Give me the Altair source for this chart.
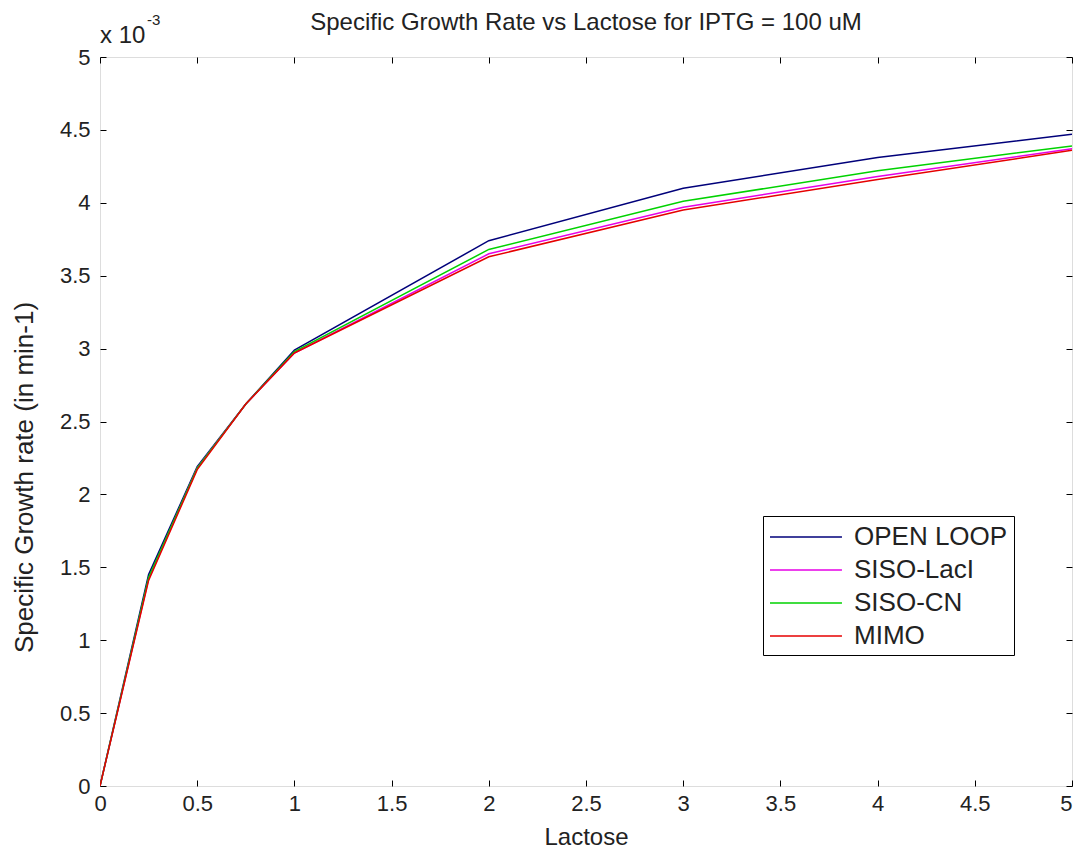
import altair as alt
import pandas as pd

# ---- data (y values in units of 1e-3 min^-1) ----
lactose = [0, 0.25, 0.5, 0.75, 1, 2, 3, 4, 5]
series_names = ["OPEN LOOP", "SISO-LacI", "SISO-CN", "MIMO"]
open_loop = [0, 1.45, 2.19, 2.62, 2.99, 3.74, 4.10, 4.31, 4.47]
siso_laci = [0, 1.42, 2.18, 2.62, 2.97, 3.65, 3.97, 4.18, 4.37]
siso_cn = [0, 1.43, 2.18, 2.62, 2.98, 3.68, 4.01, 4.22, 4.39]
mimo = [0, 1.41, 2.17, 2.62, 2.97, 3.63, 3.95, 4.16, 4.36]
colors = ["#00007a", "#e600e6", "#00d200", "#e60000"]
x_ticks = [0, 0.5, 1, 1.5, 2, 2.5, 3, 3.5, 4, 4.5, 5]
y_ticks = [0, 0.5, 1, 1.5, 2, 2.5, 3, 3.5, 4, 4.5, 5]
title_text = ["Specific Growth Rate vs Lactose for IPTG = 100 uM"]
exp_text = ["x 10"]
exp_sup_text = ["-3"]

rows = []
for k, (name, vals) in enumerate(zip(series_names, [open_loop, siso_laci, siso_cn, mimo])):
    for x, y in zip(lactose, vals):
        rows.append({"Lactose": x, "Rate": y, "Series": name, "k": k})
df = pd.DataFrame(rows)

FONT = "Liberation Sans"
TXT = "#222222"
xscale = alt.Scale(domain=[0, 5], nice=False, zero=False)
yscale = alt.Scale(domain=[0, 5], nice=False, zero=False)

base = alt.Chart(df)

lines = base.mark_line(strokeWidth=1.5, clip=True).encode(
    x=alt.X("Lactose:Q", scale=xscale,
            axis=alt.Axis(orient="bottom", values=x_ticks, ticks=False, domain=False, grid=False,
                          labelPadding=7, labelFontSize=22, labelFont=FONT, format="~g",
                          labelFlush=False, labelColor=TXT,
                          labelAlign=alt.condition("datum.value == 5", alt.value("right"), alt.value("center")),
                          title="Lactose", titleFontSize=24, titleFont=FONT,
                          titleFontWeight="normal", titleColor=TXT, titleY=51,
                          titleBaseline="middle")),
    y=alt.Y("Rate:Q", scale=yscale,
            axis=alt.Axis(orient="left", values=y_ticks, ticks=False, domain=False, grid=False,
                          labelPadding=10, labelFontSize=22, labelFont=FONT, format="~g",
                          labelFlush=False, labelColor=TXT,
                          title="Specific Growth rate (in min-1)", titleFontSize=26,
                          titleFont=FONT, titleFontWeight="normal", titleColor=TXT,
                          titleX=-76, titleY=420, titleAngle=-90, titleBaseline="middle")),
    color=alt.Color("Series:N",
                    scale=alt.Scale(domain=series_names, range=colors),
                    sort=series_names,
                    legend=alt.Legend(orient="none", legendX=663, legendY=459,
                                      title=None, symbolType="M-1,0H4.14", symbolSize=784,
                                      symbolStrokeWidth=1.5, labelFontSize=26, labelFont=FONT,
                                      labelColor=TXT, strokeColor="black", fillColor="white",
                                      padding=6, rowPadding=5, labelOffset=55)),
    order=alt.Order("k:Q"),
)

tick_style = dict(labels=False, domain=False, grid=False, title=None, tickSize=6,
                  tickColor="black", tickWidth=1)

ticks_a = base.mark_point(opacity=0).encode(
    x=alt.X("Lactose:Q", scale=xscale,
            axis=alt.Axis(orient="bottom", offset=-6, values=x_ticks, **tick_style)),
    y=alt.Y("Rate:Q", scale=yscale,
            axis=alt.Axis(orient="left", offset=-6, values=y_ticks, **tick_style)),
)
ticks_b = base.mark_point(opacity=0).encode(
    x=alt.X("Lactose:Q", scale=xscale,
            axis=alt.Axis(orient="top", offset=-6, values=x_ticks, **tick_style)),
    y=alt.Y("Rate:Q", scale=yscale,
            axis=alt.Axis(orient="right", offset=-6, values=y_ticks, **tick_style)),
)

title_mark = alt.Chart(pd.DataFrame({"t": title_text})).mark_text(
    align="center", baseline="middle", fontSize=24, font=FONT, color=TXT
).encode(text="t:N", x=alt.value(486), y=alt.value(-34))
exp_base = alt.Chart(pd.DataFrame({"t": exp_text})).mark_text(
    align="left", baseline="alphabetic", fontSize=24, font=FONT, color=TXT
).encode(text="t:N", x=alt.value(0), y=alt.value(-14))
exp_sup = alt.Chart(pd.DataFrame({"t": exp_sup_text})).mark_text(
    align="left", baseline="alphabetic", fontSize=15, font=FONT, color=TXT
).encode(text="t:N", x=alt.value(47), y=alt.value(-32))

chart = alt.layer(lines, ticks_a, ticks_b, title_mark, exp_base, exp_sup).resolve_axis(
    x="independent", y="independent"
).properties(
    width=972, height=729,
    autosize=alt.AutoSizeParams(type="none"),
    padding={"left": 92, "top": 49, "right": 3, "bottom": 65},
).configure_view(stroke="black", strokeWidth=1).configure(background="white")

chart.save("out.html", embed_options={"renderer": "svg", "actions": False})
